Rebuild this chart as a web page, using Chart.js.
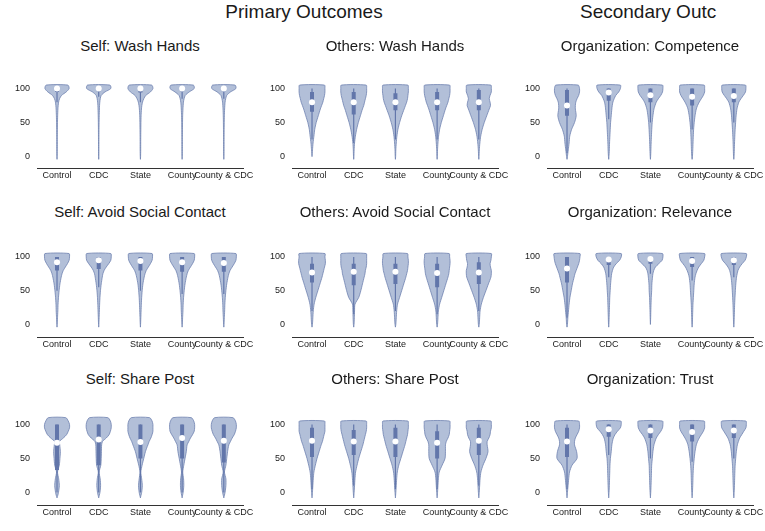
<!DOCTYPE html>
<html>
<head>
<meta charset="utf-8">
<script src="https://cdn.jsdelivr.net/npm/chart.js@4.4.1/dist/chart.umd.min.js"></script>
<style>
  body { margin: 0; width: 765px; height: 531px; background: #fff; position: relative; overflow: hidden;
         font-family: "Liberation Sans", Arial, sans-serif; color: #1a1a1a; }
  canvas { position: absolute; }
  .title { position: absolute; font-size: 15px; white-space: nowrap; transform: translate(-50%, -50%); }
  .sup { position: absolute; font-size: 19px; white-space: nowrap; top: 1px; }
</style>
</head>
<body>
<div class="sup" style="left:304px; transform:translateX(-50%);">Primary Outcomes</div>
<div class="sup" style="left:580px;">Secondary Outc</div>

<script>
// y levels where the violin half-widths are read (value units)
const LEVELS = [-8, -4, 0, 10, 20, 30, 40, 50, 60, 70, 75, 80, 85, 90, 95, 100, 105, 110];
const CATEGORIES = ["Control", "CDC", "State", "County", "County & CDC"];
const Y_TICKS = [0, 50, 100];

// ===== Self: Wash Hands =====
const selfWashWidths = [
  [null, 0, .004, .007, .007, .008, .009, .011, .015, .022, .028, .038, .06, .11, .22, .29, .26, null],
  [null, 0, .003, .005, .005, .006, .007, .009, .012, .017, .02, .026, .037, .06, .15, .29, .27, null],
  [null, 0, .004, .007, .007, .008, .01, .012, .016, .025, .034, .05, .08, .13, .24, .30, .27, null],
  [null, 0, .004, .006, .006, .007, .008, .01, .013, .02, .025, .032, .047, .075, .17, .29, .27, null],
  [null, 0, .003, .006, .006, .007, .008, .01, .013, .019, .024, .03, .045, .07, .16, .29, .27, null]
];
const selfWashMedian = [100, 100, 100, 100, 100];
const selfWashQ1 = [95, 96, 94, 96, 96];
const selfWashQ3 = [100, 100, 100, 100, 100];
const selfWashLow = [80, 88, 80, 85, 85];

// ===== Others: Wash Hands =====
const othersWashWidths = [
  [null, null, 0, .012, .025, .045, .065, .10, .15, .20, .23, .26, .28, .30, .31, .31, .30, null],
  [null, 0, .005, .01, .02, .04, .07, .11, .16, .21, .24, .26, .28, .30, .31, .31, .30, null],
  [null, 0, .005, .01, .02, .035, .06, .10, .15, .21, .24, .27, .29, .30, .31, .31, .30, null],
  [null, 0, .005, .01, .02, .035, .06, .10, .15, .20, .23, .26, .28, .30, .31, .31, .30, null],
  [null, 0, .005, .012, .025, .045, .08, .13, .19, .25, .28, .27, .25, .27, .30, .30, .29, null]
];
const othersWashMedian = [80, 80, 80, 80, 80];
const othersWashQ1 = [66, 62, 68, 68, 68];
const othersWashQ3 = [95, 95, 93, 95, 98];
const othersWashLow = [25, 20, 25, 25, 25];

// ===== Organization: Competence =====
const orgCompWidths = [
  [null, 0, .01, .03, .05, .065, .11, .18, .22, .20, .20, .21, .24, .28, .30, .30, .27, null],
  [null, 0, .006, .015, .02, .028, .036, .045, .06, .075, .085, .10, .13, .17, .24, .28, .28, null],
  [null, 0, .005, .012, .017, .024, .032, .042, .06, .085, .11, .14, .19, .25, .29, .30, .29, null],
  [null, 0, .008, .016, .022, .028, .036, .05, .07, .10, .13, .17, .22, .27, .30, .30, .29, null],
  [null, 0, .006, .012, .017, .024, .032, .043, .055, .075, .095, .12, .17, .23, .28, .29, .28, null]
];
const orgCompMedian = [75, 94, 90, 88, 89];
const orgCompQ1 = [60, 82, 80, 75, 80];
const orgCompQ3 = [98, 100, 100, 100, 100];
const orgCompLow = [5, 55, 50, 40, 50];

// ===== Self: Avoid Social Contact =====
const selfAvoidWidths = [
  [null, 0, .005, .012, .02, .025, .035, .05, .07, .10, .12, .15, .20, .25, .29, .30, .29, null],
  [null, 0, .004, .01, .016, .022, .03, .042, .06, .085, .10, .13, .18, .24, .29, .30, .29, null],
  [null, 0, .004, .01, .016, .022, .03, .042, .06, .09, .11, .14, .19, .24, .28, .29, .28, null],
  [null, 0, .005, .012, .02, .025, .035, .05, .07, .10, .12, .15, .20, .25, .29, .30, .29, null],
  [null, 0, .005, .012, .02, .025, .035, .05, .07, .10, .12, .15, .20, .25, .29, .30, .29, null]
];
const selfAvoidMedian = [92, 95, 94, 92, 91];
const selfAvoidQ1 = [80, 82, 80, 78, 78];
const selfAvoidQ3 = [100, 100, 100, 100, 100];
const selfAvoidLow = [50, 55, 50, 45, 45];

// ===== Others: Avoid Social Contact =====
const othersAvoidWidths = [
  [null, 0, .01, .02, .03, .05, .09, .14, .19, .24, .26, .28, .30, .32, .32, .31, .31, null],
  [null, 0, .008, .015, .02, .03, .12, .17, .21, .25, .27, .28, .30, .31, .31, .31, .30, null],
  [null, 0, .01, .02, .03, .05, .10, .15, .20, .25, .27, .29, .30, .31, .31, .30, .29, null],
  [null, 0, .01, .02, .03, .06, .11, .16, .21, .26, .28, .29, .30, .31, .31, .30, .29, null],
  [null, 0, .01, .02, .03, .06, .11, .17, .23, .29, .30, .30, .28, .27, .29, .30, .30, null]
];
const othersAvoidMedian = [77, 78, 78, 76, 77];
const othersAvoidQ1 = [62, 58, 60, 55, 60];
const othersAvoidQ3 = [90, 90, 90, 90, 92];
const othersAvoidLow = [20, 15, 20, 15, 20];

// ===== Organization: Relevance =====
const orgRelWidths = [
  [null, 0, .01, .02, .035, .05, .07, .10, .13, .17, .19, .22, .25, .28, .30, .31, .31, null],
  [null, 0, .005, .01, .015, .02, .025, .035, .045, .06, .07, .09, .12, .18, .26, .30, .30, null],
  [null, null, 0, .006, .01, .015, .02, .03, .035, .05, .06, .08, .12, .20, .28, .30, .29, null],
  [null, 0, .005, .01, .015, .02, .03, .04, .05, .07, .09, .12, .16, .22, .28, .30, .30, null],
  [null, 0, .005, .01, .015, .02, .028, .037, .048, .065, .08, .10, .14, .20, .27, .30, .30, null]
];
const orgRelMedian = [83, 96, 97, 94, 95];
const orgRelQ1 = [62, 88, 90, 85, 88];
const orgRelQ3 = [100, 100, 100, 100, 100];
const orgRelLow = [10, 70, 75, 65, 70];

// ===== Self: Share Post =====
const selfShareWidths = [
  [0, .02, .035, .055, .04, .012, .055, .07, .08, .065, .06, .15, .23, .27, .30, .30, .27, .21],
  [0, .015, .03, .045, .035, .01, .05, .06, .065, .07, .09, .18, .25, .28, .30, .30, .28, .22],
  [0, .015, .03, .045, .03, .01, .04, .08, .12, .18, .21, .25, .28, .30, .30, .30, .28, .22],
  [0, .012, .025, .04, .035, .015, .04, .07, .10, .12, .16, .20, .25, .29, .30, .30, .28, .22],
  [0, .015, .03, .05, .05, .015, .05, .07, .09, .12, .16, .20, .25, .28, .30, .30, .28, .22]
];
const selfShareMedian = [73, 78, 74, 80, 76];
const selfShareQ1 = [33, 40, 50, 50, 44];
const selfShareQ3 = [100, 100, 100, 100, 100];
const selfShareLow = [0, 0, 0, 0, 0];

// ===== Others: Share Post =====
const othersShareWidths = [
  [0, .005, .01, .02, .03, .045, .08, .12, .17, .22, .25, .27, .29, .31, .31, .31, .30, null],
  [0, .005, .01, .02, .03, .045, .08, .12, .17, .22, .24, .26, .28, .30, .31, .31, .30, null],
  [0, .005, .01, .02, .03, .045, .08, .13, .18, .23, .25, .27, .29, .30, .31, .31, .30, null],
  [0, .005, .01, .02, .03, .05, .12, .19, .20, .20, .22, .26, .29, .30, .31, .31, .30, null],
  [0, .005, .01, .02, .03, .05, .10, .17, .22, .20, .20, .24, .27, .28, .30, .30, .29, null]
];
const othersShareMedian = [76, 75, 75, 73, 76];
const othersShareQ1 = [52, 55, 52, 50, 55];
const othersShareQ3 = [95, 92, 95, 90, 95];
const othersShareLow = [5, 10, 5, 5, 10];

// ===== Organization: Trust =====
const orgTrustWidths = [
  [0, .005, .01, .025, .04, .06, .12, .24, .23, .18, .18, .20, .24, .28, .30, .30, .28, null],
  [0, .004, .008, .015, .02, .025, .03, .04, .06, .075, .09, .11, .15, .21, .28, .30, .29, null],
  [0, .004, .008, .015, .02, .025, .03, .045, .06, .085, .11, .14, .19, .25, .29, .30, .29, null],
  [0, .004, .008, .015, .02, .025, .035, .05, .07, .10, .13, .17, .22, .27, .30, .30, .29, null],
  [0, .004, .008, .015, .02, .025, .032, .045, .06, .085, .11, .14, .19, .24, .29, .30, .29, null]
];
const orgTrustMedian = [75, 93, 91, 89, 91];
const orgTrustQ1 = [52, 82, 80, 75, 80];
const orgTrustQ3 = [95, 100, 100, 100, 100];
const orgTrustLow = [5, 55, 50, 45, 50];

const PANELS = [
  { title: "Self: Wash Hands", widths: selfWashWidths, median: selfWashMedian, q1: selfWashQ1, q3: selfWashQ3, low: selfWashLow, col: 0, row: 0 },
  { title: "Others: Wash Hands", widths: othersWashWidths, median: othersWashMedian, q1: othersWashQ1, q3: othersWashQ3, low: othersWashLow, col: 1, row: 0 },
  { title: "Organization: Competence", widths: orgCompWidths, median: orgCompMedian, q1: orgCompQ1, q3: orgCompQ3, low: orgCompLow, col: 2, row: 0 },
  { title: "Self: Avoid Social Contact", widths: selfAvoidWidths, median: selfAvoidMedian, q1: selfAvoidQ1, q3: selfAvoidQ3, low: selfAvoidLow, col: 0, row: 1 },
  { title: "Others: Avoid Social Contact", widths: othersAvoidWidths, median: othersAvoidMedian, q1: othersAvoidQ1, q3: othersAvoidQ3, low: othersAvoidLow, col: 1, row: 1 },
  { title: "Organization: Relevance", widths: orgRelWidths, median: orgRelMedian, q1: orgRelQ1, q3: orgRelQ3, low: orgRelLow, col: 2, row: 1 },
  { title: "Self: Share Post", widths: selfShareWidths, median: selfShareMedian, q1: selfShareQ1, q3: selfShareQ3, low: selfShareLow, col: 0, row: 2 },
  { title: "Others: Share Post", widths: othersShareWidths, median: othersShareMedian, q1: othersShareQ1, q3: othersShareQ3, low: othersShareLow, col: 1, row: 2 },
  { title: "Organization: Trust", widths: orgTrustWidths, median: orgTrustMedian, q1: orgTrustQ1, q3: orgTrustQ3, low: orgTrustLow, col: 2, row: 2 }
];

// layout (pixels)
const COL_LEFT = [0, 255, 510];
const ROW_TOP = [70, 236, 403];
const ROW_AREA_H = [98, 101, 102];
const ROW_TITLE_Y = [45, 211, 378];
const ROW_YMIN = [-16.7, -18.6, -18.5];
const ROW_YMAX = [109, 112.6, 113.3];
const AXIS_W = 37, AXIS_H = 22, PAD_R = 15, AREA_W = 206;

const FILL = "rgb(178,191,216)";
const EDGE = "rgb(110,130,176)";
const BOX = "rgb(98,118,170)";
const FONT = "'Liberation Sans', Arial, sans-serif";

function violinOutline(widths, i) {
  const right = [], left = [];
  LEVELS.forEach((y, k) => {
    const w = widths[k];
    if (w === null) return;
    right.push({ x: i + w, y });
    left.unshift({ x: i - w, y });
  });
  return right.concat(left);
}

function buildPanel(p) {
  const cv = document.createElement("canvas");
  cv.width = AXIS_W + AREA_W + PAD_R;
  cv.height = ROW_AREA_H[p.row] + AXIS_H;
  cv.style.left = COL_LEFT[p.col] + "px";
  cv.style.top = ROW_TOP[p.row] + "px";
  document.body.appendChild(cv);

  const t = document.createElement("div");
  t.className = "title";
  t.textContent = p.title;
  t.style.left = (COL_LEFT[p.col] + AXIS_W + AREA_W / 2) + "px";
  t.style.top = ROW_TITLE_Y[p.row] + "px";
  document.body.appendChild(t);

  const datasets = [];
  // median dots (drawn on top)
  datasets.push({
    data: p.median.map((m, i) => ({ x: i, y: m })),
    showLine: false, pointRadius: 3, pointBackgroundColor: "#fff", pointBorderWidth: 0, order: 0
  });
  // interquartile bars
  datasets.push({
    data: p.q1.flatMap((q, i) => [{ x: i, y: q }, { x: i, y: p.q3[i] }, { x: i, y: null }]),
    borderColor: BOX, borderWidth: 4, borderCapStyle: "butt", pointRadius: 0, fill: false, order: 1
  });
  // whiskers
  datasets.push({
    data: p.low.flatMap((l, i) => [{ x: i, y: l }, { x: i, y: 100 }, { x: i, y: null }]),
    borderColor: BOX, borderWidth: 1.2, pointRadius: 0, fill: false, order: 2
  });
  // violin bodies
  p.widths.forEach((w, i) => {
    datasets.push({
      data: violinOutline(w, i),
      borderColor: EDGE, borderWidth: 0.8, backgroundColor: FILL,
      fill: "shape", tension: 0.25, pointRadius: 0, order: 3
    });
  });

  new Chart(cv, {
    type: "line",
    data: { datasets },
    options: {
      animation: false,
      responsive: false,
      events: [],
      layout: { padding: { left: 0, right: PAD_R, top: 0, bottom: 0 } },
      plugins: { legend: { display: false }, tooltip: { enabled: false } },
      scales: {
        x: {
          type: "linear", min: -0.48, max: 4.46,
          grid: { display: false, drawTicks: false },
          border: { display: true, color: "#333", width: 1 },
          afterBuildTicks: a => { a.ticks = CATEGORIES.map((c, i) => ({ value: i })); },
          afterFit: a => { a.height = AXIS_H; },
          ticks: {
            autoSkip: false, maxRotation: 0, minRotation: 0, padding: 2, color: "#1a1a1a",
            font: { size: 9, family: FONT },
            callback: v => CATEGORIES[v]
          }
        },
        y: {
          type: "linear", min: ROW_YMIN[p.row], max: ROW_YMAX[p.row],
          grid: { display: false, drawTicks: false },
          border: { display: false },
          afterBuildTicks: a => { a.ticks = Y_TICKS.map(v => ({ value: v })); },
          afterFit: a => { a.width = AXIS_W; },
          ticks: { padding: 7, color: "#1a1a1a", font: { size: 9, family: FONT } }
        }
      }
    }
  });
}

PANELS.forEach(buildPanel);
</script>
</body>
</html>
